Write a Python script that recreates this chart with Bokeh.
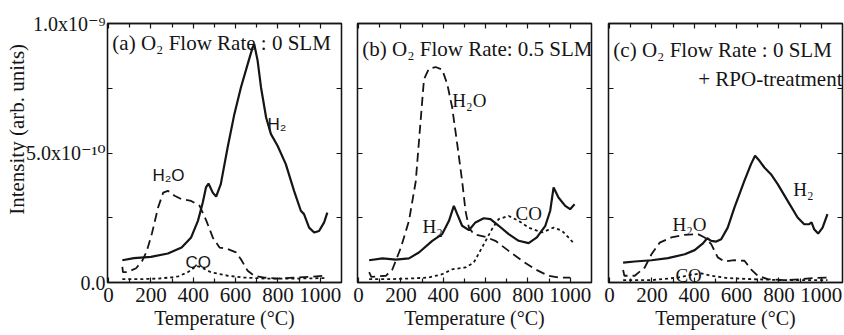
from bokeh.plotting import figure
from bokeh.layouts import row
from bokeh.models import FixedTicker, LinearAxis, Label, Range1d
from bokeh.embed import file_html
from bokeh.resources import INLINE

# ---------------- data (temperature in °C, intensity in units of 1e-9) ----------------
a_h2_t = [65, 120, 200, 280, 345, 390, 422, 445, 460, 472, 492, 508, 530, 562, 594, 625, 657, 680, 688,
          704, 720, 744, 767, 798, 837, 876, 908, 923, 947, 971, 994, 1018, 1033]
a_h2_i = [0.086, 0.094, 0.099, 0.112, 0.135, 0.174, 0.238, 0.309, 0.367, 0.382, 0.347, 0.332, 0.380, 0.52,
          0.65, 0.753, 0.843, 0.907, 0.92, 0.856, 0.753, 0.637, 0.573, 0.528, 0.457, 0.354, 0.277, 0.264,
          0.212, 0.193, 0.199, 0.232, 0.27]
a_h2o_t = [65, 68, 90, 130, 160, 180, 205, 234, 258, 280, 312, 343, 390, 430, 462, 492, 524, 563, 602, 625,
           657, 688, 735, 798, 876, 955, 1018]
a_h2o_i = [0.06, 0.04, 0.04, 0.055, 0.085, 0.12, 0.19, 0.29, 0.347, 0.354, 0.335, 0.322, 0.315, 0.296, 0.238,
           0.174, 0.135, 0.129, 0.116, 0.09, 0.045, 0.026, 0.019, 0.015, 0.019, 0.022, 0.026]
a_co_t = [65, 150, 230, 300, 330, 375, 400, 415, 440, 485, 565, 640, 750, 880, 1020]
a_co_i = [0.013, 0.013, 0.015, 0.02, 0.024, 0.04, 0.055, 0.064, 0.058, 0.039, 0.026, 0.019, 0.015, 0.015, 0.017]

b_h2_t = [50, 113, 176, 238, 285, 348, 395, 427, 450, 466, 489, 521, 552, 591, 623, 662, 709, 756, 803, 842,
          882, 905, 921, 944, 976, 999, 1020]
b_h2_i = [0.086, 0.093, 0.088, 0.093, 0.116, 0.161, 0.187, 0.238, 0.296, 0.264, 0.219, 0.202, 0.232, 0.248,
          0.245, 0.219, 0.187, 0.161, 0.152, 0.174, 0.219, 0.277, 0.367, 0.328, 0.296, 0.283, 0.302]
b_h2o_t = [50, 60, 129, 160, 200, 238, 270, 293, 309, 332, 364, 395, 419, 442, 466, 489, 505, 521, 544, 599,
           646, 709, 772, 834, 897, 944, 999]
b_h2o_i = [0.04, 0.022, 0.026, 0.051, 0.135, 0.238, 0.39, 0.624, 0.785, 0.825, 0.832, 0.822, 0.766, 0.676,
           0.534, 0.393, 0.277, 0.212, 0.187, 0.176, 0.161, 0.122, 0.084, 0.051, 0.026, 0.019, 0.019]
b_co_t = [50, 150, 230, 330, 395, 442, 505, 544, 583, 630, 662, 709, 756, 803, 866, 921, 960, 991, 1020]
b_co_i = [0.013, 0.013, 0.015, 0.019, 0.032, 0.051, 0.058, 0.077, 0.135, 0.206, 0.245, 0.257, 0.238, 0.212,
          0.193, 0.212, 0.2, 0.174, 0.148]

c_h2_t = [64, 119, 198, 276, 355, 402, 441, 461, 480, 504, 527, 558, 590, 637, 668, 687, 708, 731, 762, 794,
          841, 888, 919, 943, 954, 966, 985, 1006, 1029]
c_h2_i = [0.077, 0.081, 0.086, 0.094, 0.109, 0.125, 0.151, 0.171, 0.161, 0.158, 0.167, 0.212, 0.29, 0.393,
          0.457, 0.489, 0.47, 0.444, 0.418, 0.38, 0.315, 0.251, 0.225, 0.225, 0.232, 0.206, 0.189, 0.212, 0.264]
c_h2o_t = [64, 70, 119, 166, 198, 237, 292, 355, 417, 449, 480, 511, 543, 590, 637, 668, 700, 747, 825, 904,
           966, 1029]
c_h2o_i = [0.048, 0.026, 0.026, 0.058, 0.109, 0.154, 0.174, 0.184, 0.187, 0.174, 0.148, 0.097, 0.081, 0.086,
           0.084, 0.051, 0.026, 0.013, 0.009, 0.013, 0.017, 0.019]
c_co_t = [64, 198, 323, 386, 433, 480, 558, 668, 825, 1029]
c_co_i = [0.009, 0.009, 0.019, 0.03, 0.035, 0.026, 0.017, 0.013, 0.009, 0.009]

x_major = [0, 200, 400, 600, 800, 1000]
x_minor = [100, 300, 500, 700, 900]
y_major = [0, 0.25, 0.5, 0.75, 1.0]
y_tick_text = {0: "0.0", 0.25: "", 0.5: "5.0x10\u207b\u00b9\u2070", 0.75: "", 1: "1.0x10\u207b\u2079"}

titles = ["(a) O\u2082 Flow Rate : 0 SLM", "(b) O\u2082 Flow Rate: 0.5 SLM", "(c) O\u2082 Flow Rate : 0 SLM"]
x_title = "Temperature (\u00b0C)"
y_title = "\u00a0" * 9 + "Intensity (arb. units)"

INK = "#151515"
SERIF = "Liberation Serif"
SERIF_SUP = "Liberation Serif, DejaVu Serif"
SANS = "Liberation Sans"


def style_axis(ax, ticks, minor, show_labels, size="21px", font=SERIF):
    ax.ticker = FixedTicker(ticks=ticks, minor_ticks=minor)
    ax.axis_line_color = INK
    ax.axis_line_width = 1.3
    ax.major_tick_in = 5
    ax.major_tick_out = 0
    ax.minor_tick_in = 4
    ax.minor_tick_out = 0
    ax.major_tick_line_color = INK
    ax.minor_tick_line_color = INK
    ax.major_tick_line_width = 1.2
    ax.minor_tick_line_width = 1.2
    ax.major_label_text_font = font
    ax.major_label_text_font_size = size
    if show_labels:
        ax.major_label_text_color = INK
        ax.major_label_standoff = 5
    else:
        ax.major_label_text_color = None
        ax.major_label_standoff = 0


def make_panel(width, bl, br, show_y):
    p = figure(width=width, height=335, x_range=Range1d(-5, 1100), y_range=Range1d(0, 1.0),
               output_backend="svg", toolbar_location=None,
               min_border_left=bl, min_border_right=br, min_border_top=23, min_border_bottom=53)
    p.grid.visible = False
    p.outline_line_color = INK
    p.outline_line_width = 1.3
    p.background_fill_color = "white"
    p.border_fill_color = "white"
    p.add_layout(LinearAxis(), "above")
    p.add_layout(LinearAxis(), "right")
    style_axis(p.below[0], x_major, x_minor, True)
    style_axis(p.above[0], x_major, x_minor, False)
    style_axis(p.left[0], y_major, [], show_y, size="20px", font=SERIF_SUP)
    style_axis(p.right[0], y_major, [], False)
    bx = p.below[0]
    bx.axis_label = x_title
    bx.axis_label_text_font = SERIF
    bx.axis_label_text_font_size = "20px"
    bx.axis_label_text_font_style = "normal"
    bx.axis_label_text_color = INK
    bx.axis_label_standoff = 2
    if show_y:
        ly = p.left[0]
        ly.major_label_overrides = y_tick_text
        ly.major_label_standoff = 2
        ly.axis_label = y_title
        ly.axis_label_text_font = SERIF
        ly.axis_label_text_font_size = "21px"
        ly.axis_label_text_font_style = "normal"
        ly.axis_label_text_color = INK
        ly.axis_label_standoff = -6
    return p


def lab(p, x, y, text, size, font=SERIF, align="left", baseline="alphabetic"):
    p.add_layout(Label(x=x, y=y, text=text, text_font=font, text_font_size=f"{size}px",
                       text_color=INK, text_align=align, text_baseline=baseline))


def curves(p, h2t, h2i, h2ot, h2oi, cot, coi):
    p.line(cot, coi, line_color=INK, line_width=1.8, line_dash="3 3")
    p.line(h2ot, h2oi, line_color=INK, line_width=1.8, line_dash="9 5")
    p.line(h2t, h2i, line_color=INK, line_width=2.2)


pa = make_panel(349, 107, 8, True)
pb = make_panel(250, 8, 8, False)
pc = make_panel(245, 9, 2, False)

curves(pa, a_h2_t, a_h2_i, a_h2o_t, a_h2o_i, a_co_t, a_co_i)
curves(pb, b_h2_t, b_h2_i, b_h2o_t, b_h2o_i, b_co_t, b_co_i)
curves(pc, c_h2_t, c_h2_i, c_h2o_t, c_h2o_i, c_co_t, c_co_i)

# panel titles
lab(pa, 18, 0.923, titles[0], 21)
lab(pb, 18, 0.903, titles[1], 21)
lab(pc, 18, 0.896, titles[2], 21)
lab(pc, 1100, 0.784, "+ RPO-treatment", 21, align="right")

# curve labels
lab(pa, 750, 0.61, "H\u2082", 17, font=SANS)
lab(pa, 207, 0.413, "H\u2082O", 17, font=SANS)
lab(pa, 363, 0.077, "CO", 17, font=SANS)
lab(pb, 443, 0.703, "H\u2082O", 19)
lab(pb, 302, 0.216, "H\u2082", 19)
lab(pb, 741, 0.266, "CO", 19)
lab(pc, 868, 0.359, "H\u2082", 19)
lab(pc, 297, 0.224, "H\u2082O", 19)
lab(pc, 311, 0.027, "CO", 19)

layout = row(pa, pb, pc)
open("out.html", "w").write(file_html(layout, INLINE))
